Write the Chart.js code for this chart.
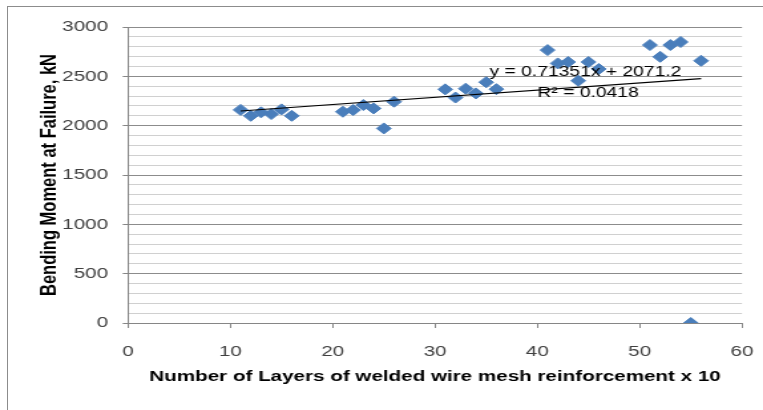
<!DOCTYPE html>
<html>
<head>
<meta charset="utf-8">
<script src="https://cdn.jsdelivr.net/npm/chart.js@4"></script>
<style>
  html, body { margin: 0; padding: 0; background: #fff; overflow: hidden; }
  #stage { position: relative; width: 763px; height: 410px; }
  /* the reference picture is stretched sideways, so the canvas is too */
  #stretch { position: absolute; left: 0; top: 0; transform: scaleX(1.3293); transform-origin: 0 0; }
  #frame { position: absolute; left: 7px; top: 6px; width: 760px; height: 410px;
           border-top: 1px solid #8c8c8c; border-left: 1px solid #8c8c8c; pointer-events: none; }
</style>
</head>
<body>
<div id="stage">
  <div id="stretch"><canvas id="chart" width="574" height="410"></canvas></div>
  <div id="frame"></div>
</div>
<script>
// Layers of welded wire mesh (x 10) and bending moment at failure (kN)
const layers = [11, 12, 13, 14, 15, 16,
                21, 22, 23, 24, 25, 26,
                31, 32, 33, 34, 35, 36,
                41, 42, 43, 44, 45, 46,
                51, 52, 53, 54, 55, 56];
const moments = [2160, 2100, 2135, 2118, 2165, 2100,
                 2141, 2158, 2209, 2175, 1972, 2243,
                 2368, 2285, 2375, 2327, 2440, 2370,
                 2766, 2631, 2645, 2455, 2645, 2575,
                 2817, 2698, 2817, 2848, 0, 2658];
const xTicks = [0, 10, 20, 30, 40, 50, 60];
const yTicks = [0, 500, 1000, 1500, 2000, 2500, 3000];
const trendText = ["y = 0.71351x + 2071.2", "R\u00b2 = 0.0418"];

const FONT = "'Liberation Sans', Arial, sans-serif";

// least squares line through the points, drawn from first to last x
function linearFit(xs, ys) {
  const n = xs.length;
  const mx = xs.reduce((a, b) => a + b, 0) / n;
  const my = ys.reduce((a, b) => a + b, 0) / n;
  let sxy = 0, sxx = 0;
  for (let i = 0; i < n; i++) {
    sxy += (xs[i] - mx) * (ys[i] - my);
    sxx += (xs[i] - mx) * (xs[i] - mx);
  }
  const slope = sxy / sxx;
  return { slope, intercept: my - slope * mx };
}

const fit = linearFit(layers, moments);
const xMin = Math.min(...layers);
const xMax = Math.max(...layers);
const trendPoints = [xMin, xMax].map(x => ({ x, y: fit.intercept + fit.slope * x }));
const points = layers.map((x, i) => ({ x, y: moments[i] }));

// equation label, anchored in data units
const trendLabel = {
  id: "trendLabel",
  afterDatasetsDraw(chart) {
    const { ctx, scales } = chart;
    const cx = scales.x.getPixelForValue(44.7);
    ctx.save();
    ctx.font = `14.5px ${FONT}`;
    ctx.fillStyle = "#000";
    ctx.textAlign = "center";
    ctx.textBaseline = "middle";
    ctx.fillText(trendText[0], cx, scales.y.getPixelForValue(2545));
    ctx.fillText(trendText[1], cx + 2, scales.y.getPixelForValue(2330));
    ctx.restore();
  },
};

const ctx = document.getElementById("chart").getContext("2d");
new Chart(ctx, {
  type: "scatter",
  data: {
    datasets: [
      {
        label: "Linear trend",
        data: trendPoints,
        showLine: true,
        borderColor: "#000",
        borderWidth: 1.2,
        pointRadius: 0,
      },
      {
        label: "Bending moment",
        data: points,
        pointStyle: "rectRot",
        pointRadius: 5.5,
        backgroundColor: "#4a7ebb",
        borderColor: "#4a7ebb",
        borderWidth: 1,
      },
    ],
  },
  plugins: [trendLabel],
  options: {
    responsive: false,
    animation: false,
    layout: { padding: { left: 0, right: 15.8, top: 27, bottom: 0 } },
    plugins: {
      legend: { display: false },
      tooltip: { enabled: false },
    },
    scales: {
      x: {
        type: "linear",
        min: 0,
        max: 60,
        afterFit: (scale) => {
          scale.height = 87;
          scale.paddingLeft = 0;
          scale.paddingRight = 0;
        },
        afterBuildTicks: (scale) => { scale.ticks = xTicks.map(v => ({ value: v })); },
        ticks: { color: "#404040", font: { family: FONT, size: 15.5 }, padding: 14 },
        grid: { drawOnChartArea: false, tickLength: 5, tickColor: "#868686" },
        border: { color: "#868686", width: 1 },
        title: {
          display: true,
          text: "Number of Layers of welded wire mesh reinforcement x 10",
          color: "#000",
          font: { family: FONT, size: 15.5, weight: "bold" },
          padding: { top: 0, bottom: 23.5 },
        },
      },
      y: {
        type: "linear",
        min: 0,
        max: 3000,
        afterFit: (scale) => { scale.width = 96.3; },
        ticks: {
          stepSize: 100,
          autoSkip: false,
          color: "#404040",
          font: { family: FONT, size: 15.5 },
          padding: 11,
          callback: (v) => (yTicks.includes(v) ? v : ""),
        },
        grid: {
          tickLength: 4,
          color: (c) => (yTicks.includes(c.tick.value) ? "#8c8c8c" : "#d0d0d0"),
          tickColor: (c) => (yTicks.includes(c.tick.value) ? "#868686" : "rgba(0,0,0,0)"),
        },
        border: { color: "#868686", width: 1 },
        title: {
          display: true,
          text: "Bending Moment at Failure, kN",
          color: "#000",
          font: { family: FONT, size: 16.5, weight: "bold" },
          padding: { top: 28, bottom: 0 },
        },
      },
    },
  },
});
</script>
</body>
</html>
